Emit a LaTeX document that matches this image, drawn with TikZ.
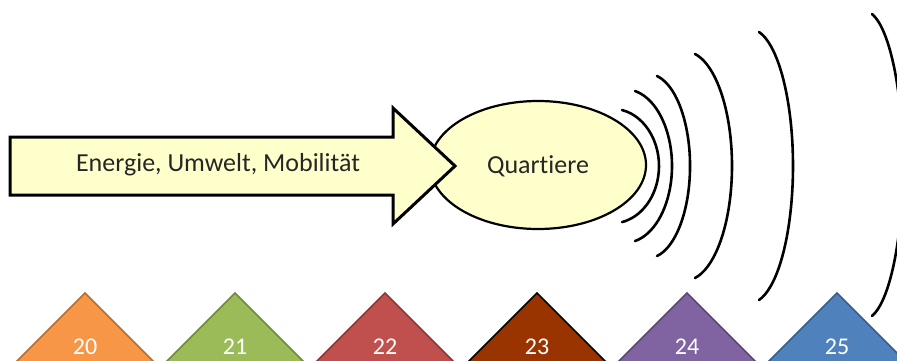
\documentclass[tikz,border=0pt]{standalone}
\usepackage{fontspec}
\setmainfont[RawFeature=-liga]{Carlito}
\usetikzlibrary{shapes.geometric}
\definecolor{paleyellow}{HTML}{FFFFCC}
\definecolor{txtgray}{HTML}{262626}
\definecolor{c20}{HTML}{F79646}\definecolor{b20}{HTML}{B66D31}
\definecolor{c21}{HTML}{9BBB59}\definecolor{b21}{HTML}{71893F}
\definecolor{c22}{HTML}{C0504D}\definecolor{b22}{HTML}{8C3836}
\definecolor{c23}{HTML}{993300}\definecolor{b23}{HTML}{000000}
\definecolor{c24}{HTML}{8064A2}\definecolor{b24}{HTML}{5C4776}
\definecolor{c25}{HTML}{4F81BD}\definecolor{b25}{HTML}{385D8A}
\tikzset{
  wave/.style={draw=black, line width=2.6pt, line cap=round},
  lbl/.style={font=\fontsize{26}{30}\selectfont, text=txtgray, inner sep=0pt},
  numlbl/.style={font=\fontsize{24}{26}\selectfont, text=white, inner sep=0pt, text depth=0pt, anchor=base},
}
\begin{document}
\begin{tikzpicture}[x=1pt,y=1pt]
\useasboundingbox (0,0) rectangle (897,360);
\begin{scope}
\clip (0,0) rectangle (897,360);
% ellipse
\node[ellipse, draw=black, line width=2.2pt, fill=paleyellow, minimum width=216pt, minimum height=128pt, inner sep=0pt] (quart) at (538,195) {};
\node[lbl] (qtext) at (538,194) {Quartiere};
% arrow
\draw[line width=3pt, fill=paleyellow, line join=miter]
  (10,223) -- (393,223) -- (393,252) -- (455,194) -- (393,136) -- (393,165) -- (10,165) -- cycle;
\node[lbl] (emm) at (218,195) {Energie, Umwelt, Mobilität};
% waves
\draw[wave] (622,250) arc[start angle=78, end angle=-78, x radius=46.7, y radius=57.3];
\draw[wave] (635,269) arc[start angle=78, end angle=-78, x radius=46.7, y radius=76.7];
\draw[wave] (657,284) arc[start angle=78, end angle=-78, x radius=41.7, y radius=92.0];
\draw[wave] (695,306) arc[start angle=78, end angle=-78, x radius=46.7, y radius=114.5];
\draw[wave] (759,328) arc[start angle=78, end angle=-78, x radius=42.9, y radius=137];
\draw[wave] (872,346) arc[start angle=78, end angle=-78, x radius=39, y radius=154.4];
% triangles
\foreach \n/\x in {20/85,21/235,22/385,23/537,24/687,25/837}{
  \draw[fill=c\n, draw=b\n, line width=1.6pt] (\x-90,-23) -- (\x,67) -- (\x+90,-23) -- cycle;
  \node[numlbl] (t\n) at (\x,5.5) {\n};
}
\end{scope}
\end{tikzpicture}
\end{document}
